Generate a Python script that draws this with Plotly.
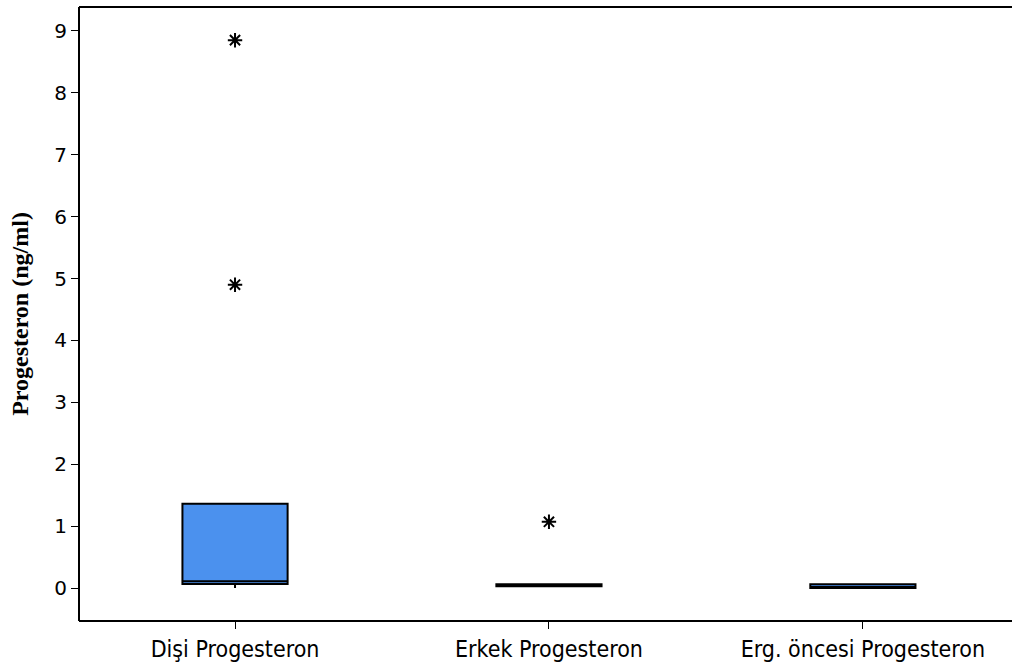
import plotly.graph_objects as go

# Progesteron (ng/ml) by group
categories = ["Dişi Progesteron", "Erkek Progesteron", "Erg. öncesi Progesteron"]
q1 = [0.065, 0.03, 0.0]
median = [0.11, 0.04, 0.0]
q3 = [1.36, 0.06, 0.06]
lower_fence = [0.0, 0.03, 0.0]
upper_fence = [1.36, 0.06, 0.06]

# Outliers
outlier_x = ["Dişi Progesteron", "Dişi Progesteron", "Erkek Progesteron"]
outlier_y = [8.85, 4.9, 1.07]

y_ticks = [0, 1, 2, 3, 4, 5, 6, 7, 8, 9]

fig = go.Figure()
fig.add_trace(go.Box(
    x=categories,
    q1=q1, median=median, q3=q3,
    lowerfence=lower_fence, upperfence=upper_fence,
    boxpoints=False,
    fillcolor="#4b91ee",
    line=dict(color="black", width=2),
    whiskerwidth=0,
    width=0.335,
    showlegend=False,
))
fig.add_trace(go.Scatter(
    x=outlier_x, y=outlier_y, mode="markers",
    marker=dict(symbol="asterisk-open", size=12, color="black",
                line=dict(color="black", width=2)),
    showlegend=False,
))

# frame: left, top and bottom edges only
frame = [
    (0, 0, 0, 1),   # left
    (0, 1, 1, 1),   # top
    (0, 0, 1, 0),   # bottom
]
for x0, y0, x1, y1 in frame:
    fig.add_shape(type="line", xref="paper", yref="paper", layer="above",
                  x0=x0, y0=y0, x1=x1, y1=y1,
                  line=dict(color="black", width=2))

fig.update_layout(
    width=1012, height=663,
    margin=dict(l=79, r=0, t=7, b=42, pad=0),
    plot_bgcolor="rgba(0,0,0,0)", paper_bgcolor="white",
    font=dict(family="DejaVu Sans", color="black"),
)
fig.update_xaxes(
    type="category", categoryorder="array", categoryarray=categories,
    range=[-0.497, 2.475], automargin=False,
    showline=False,
    ticks="outside", ticklen=7, tickwidth=1, tickcolor="black",
    showgrid=False, zeroline=False,
    tickfont=dict(family="DejaVu Sans Condensed, DejaVu Sans, sans-serif", size=23),
)
fig.update_yaxes(
    range=[-0.533, 9.386], automargin=False,
    tickvals=y_ticks,
    showline=False,
    ticks="outside", ticklen=7, tickwidth=1, tickcolor="black",
    showgrid=False, zeroline=False,
    tickfont=dict(family="DejaVu Sans", size=20),
    title=dict(text="<b>Progesteron (ng/ml)</b>",
               font=dict(family="Liberation Serif, Times New Roman, serif", size=24),
               standoff=18),
)

fig.write_html("out.html", config={"displayModeBar": False})
